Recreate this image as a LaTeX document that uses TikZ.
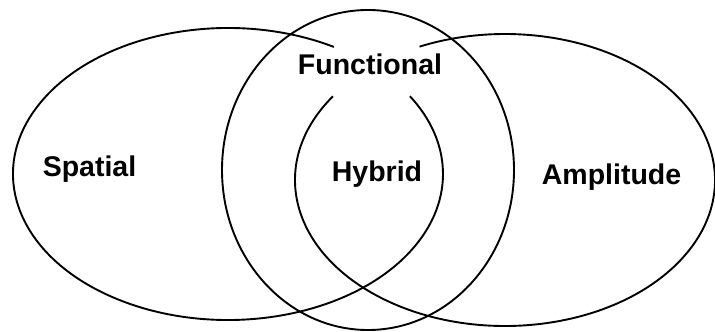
\documentclass[tikz,border=0pt]{standalone}
\usepackage{fontspec}
\setmainfont{Liberation Sans}
\begin{document}
\begin{tikzpicture}[x=1pt,y=1pt,
  ring/.style={line width=1.9pt, black},
  lbl/.style={font=\fontsize{28.5}{30}\selectfont\bfseries, inner sep=0pt, anchor=base}]
\useasboundingbox (0,0) rectangle (715,332);
% left ellipse (Spatial)
\draw[ring] (228,158) ++(60.5:215pt and 146pt)
  arc[start angle=60.5, end angle=392.2, x radius=215pt, y radius=146pt];
% right ellipse (Amplitude)
\draw[ring] (505,152) ++(145:210pt and 146pt)
  arc[start angle=145, end angle=474, x radius=210pt, y radius=146pt];
% middle ellipse (Functional)
\draw[ring] (368,162) ellipse[x radius=146pt, y radius=160pt];
\node[lbl] (spatial) at (89.5,155) {Spatial};
\node[lbl] (functional) at (370,257) {Functional};
\node[lbl] (hybrid) at (377,150) {Hybrid};
\node[lbl] (amplitude) at (611.5,147) {Amplitude};
\end{tikzpicture}
\end{document}
